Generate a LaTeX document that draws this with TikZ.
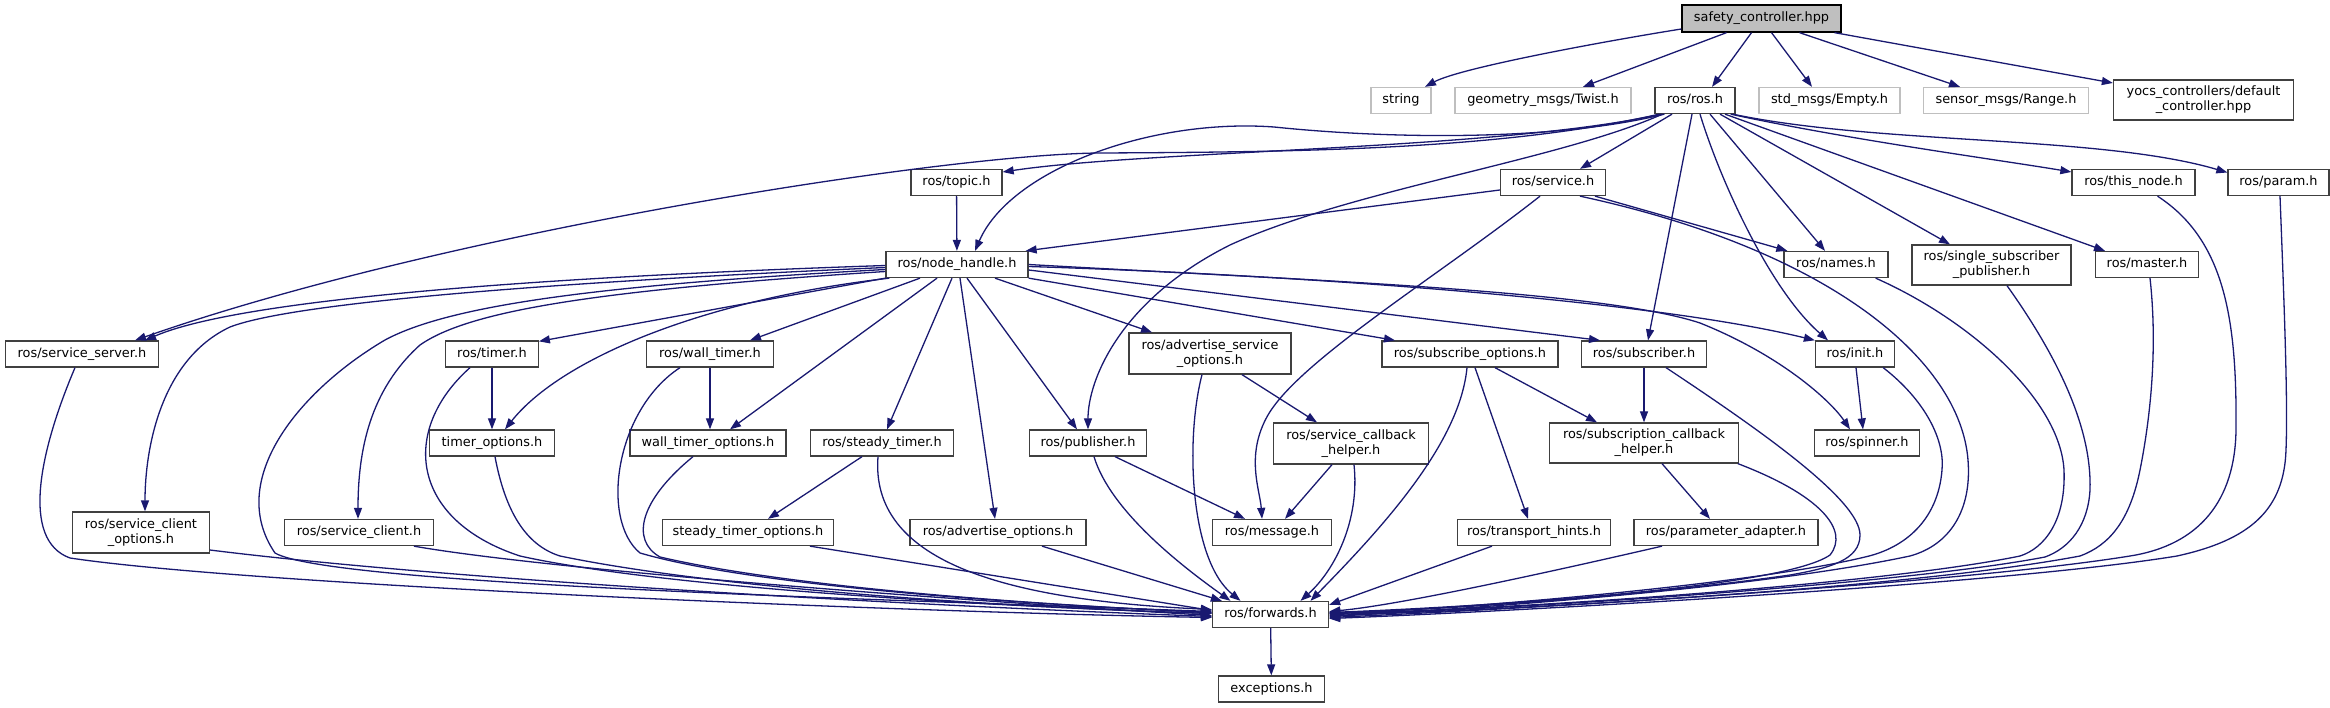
\documentclass[tikz,border=0pt]{standalone}
\usepackage{fontspec}
\setmainfont{DejaVu Sans}
\usetikzlibrary{arrows.meta}
\definecolor{edgec}{HTML}{191970}
\definecolor{bord}{HTML}{404040}
\definecolor{lgrey}{HTML}{BFBFBF}
\newcommand\nodefont{\fontsize{12.9pt}{15pt}\selectfont}
\tikzset{
  box/.style={draw=bord, fill=white, line width=1.3pt, inner sep=0pt, minimum height=26pt, text height=9.8pt, text depth=3pt, font=\nodefont},
  box2/.style={draw=bord, fill=white, line width=1.3pt, inner sep=0pt, minimum height=41pt, align=center, font=\nodefont},
  gbox/.style={box, draw=lgrey},
  rootbox/.style={box, fill=lgrey, draw=black, minimum height=27pt},
  e/.style={draw=edgec, line width=1.3pt, line join=round, -{Triangle[length=11pt,width=8pt]}}
}
\begin{document}
\begin{tikzpicture}[x=1pt,y=-1pt]
\useasboundingbox (0,0) rectangle (2330,708);
% nodes
\node[rootbox, minimum width=159pt] (root) at (1761.5,18.5) {safety\_controller.hpp};
\node[gbox, minimum width=60pt] (string) at (1401,100.5) {string};
\node[gbox, minimum width=176pt] (twist) at (1543,100.5) {geometry\_msgs/Twist.h};
\node[box, minimum width=80pt] (ros) at (1695,100.5) {ros/ros.h};
\node[gbox, minimum width=141pt] (empty) at (1829.5,100.5) {std\_msgs/Empty.h};
\node[gbox, minimum width=165pt] (range) at (2006,100.5) {sensor\_msgs/Range.h};
\node[box2, minimum width=180pt, minimum height=40pt] (yocs) at (2203.5,100) {yocs\_controllers/default\\\_controller.hpp};
\node[box, minimum width=91pt] (topic) at (956.5,182.5) {ros/topic.h};
\node[box, minimum width=105pt] (service) at (1553,182.5) {ros/service.h};
\node[box, minimum width=123pt] (thisnode) at (2133.5,182.5) {ros/this\_node.h};
\node[box, minimum width=101pt] (param) at (2278.5,182.5) {ros/param.h};
\node[box, minimum width=142pt] (nh) at (957,264.5) {ros/node\_handle.h};
\node[box, minimum width=104pt] (names) at (1836,264.5) {ros/names.h};
\node[box2, minimum width=159pt, minimum height=40pt] (ssp) at (1991.5,265) {ros/single\_subscriber\\\_publisher.h};
\node[box, minimum width=103pt] (master) at (2147,264.5) {ros/master.h};
\node[box, minimum width=153pt] (ssrv) at (82,354) {ros/service\_server.h};
\node[box, minimum width=92.5pt] (timer) at (492,354) {ros/timer.h};
\node[box, minimum width=127.5pt] (wtimer) at (710,354) {ros/wall\_timer.h};
\node[box2, minimum width=162pt] (aso) at (1210,353.5) {ros/advertise\_service\\\_options.h};
\node[box, minimum width=176pt] (subopt) at (1470,354) {ros/subscribe\_options.h};
\node[box, minimum width=125.5pt] (subscr) at (1644,354) {ros/subscriber.h};
\node[box, minimum width=79pt] (init) at (1855,354) {ros/init.h};
\node[box, minimum width=125.5pt] (topts) at (492,443) {timer\_options.h};
\node[box, minimum width=156pt] (wtopts) at (708,443) {wall\_timer\_options.h};
\node[box, minimum width=143.5pt] (stimer) at (882,443) {ros/steady\_timer.h};
\node[box, minimum width=117.5pt] (pub) at (1088,443) {ros/publisher.h};
\node[box2, minimum width=155.5pt] (scbh) at (1351,443.5) {ros/service\_callback\\\_helper.h};
\node[box2, minimum width=188.5pt, minimum height=40pt] (subcbh) at (1644,443) {ros/subscription\_callback\\\_helper.h};
\node[box, minimum width=105.5pt] (spinner) at (1867,443) {ros/spinner.h};
\node[box2, minimum width=136.5pt] (scopts) at (141,532.5) {ros/service\_client\\\_options.h};
\node[box, minimum width=148.5pt] (sclient) at (359,532.5) {ros/service\_client.h};
\node[box, minimum width=171.5pt] (stopts) at (748,532.5) {steady\_timer\_options.h};
\node[box, minimum width=176pt] (advopts) at (998,532.5) {ros/advertise\_options.h};
\node[box, minimum width=118.5pt] (message) at (1272,532.5) {ros/message.h};
\node[box, minimum width=153.5pt] (thints) at (1534,532.5) {ros/transport\_hints.h};
\node[box, minimum width=184pt] (padapt) at (1726,532.5) {ros/parameter\_adapter.h};
\node[box, minimum width=116pt] (fwd) at (1270.5,614.5) {ros/forwards.h};
\node[box, minimum width=106pt] (exc) at (1271.5,689) {exceptions.h};
% root edges
\draw[e] ([yshift=-10.5]root.west) .. controls (1600,42) and (1460,68) .. ([xshift=24]string.north);
\draw[e] ([xshift=-35]root.south) -- ([xshift=40]twist.north);
\draw[e] ([xshift=-10]root.south) -- ([xshift=17]ros.north);
\draw[e] ([xshift=10]root.south) -- ([xshift=-17.5]empty.north);
\draw[e] ([xshift=38]root.south) -- ([xshift=-46]range.north);
\draw[e] ([xshift=73]root.south) -- ([yshift=17]yocs.west);
% ros edges
\draw[e] ([xshift=7]ros.south west) .. controls (1500,150) and (1150,150) .. ([yshift=10.5]topic.east);
\draw[e] ([xshift=5]ros.south west) .. controls (1500,150) and (1300,152) .. (1100,153) .. controls (950,154) and (450,230) .. ([xshift=53]ssrv.north);
\draw[e] ([xshift=10]ros.south west) .. controls (1560,140) and (1400,140) .. (1274,127) .. controls (1150,118) and (1010,170) .. ([xshift=18]nh.north);
\draw[e] ([xshift=-23]ros.south) -- ([xshift=27]service.north);
\draw[e] ([xshift=8]ros.south west) .. controls (1560,160) and (1350,190) .. (1230,245) .. controls (1120,300) and (1088,380) .. (pub.north);
\draw[e] ([xshift=-3]ros.south) -- ([xshift=4]subscr.north);
\draw[e] ([xshift=5]ros.south) .. controls (1720,180) and (1770,290) .. ([xshift=-27]init.north);
\draw[e] ([xshift=15]ros.south) -- ([xshift=-11]names.north);
\draw[e] ([xshift=25]ros.south) -- ([xshift=-41.5]ssp.north);
\draw[e] ([xshift=30]ros.south) -- ([xshift=-42]master.north);
\draw[e] ([xshift=-5]ros.south east) .. controls (1850,140) and (2000,160) .. ([yshift=10.5]thisnode.west);
\draw[e] ([xshift=-3]ros.south east) .. controls (1880,145) and (2100,135) .. ([yshift=10]param.west);
% node_handle edges
\draw[e] ([yshift=-1]nh.west) .. controls (600,275) and (250,295) .. ([xshift=63]ssrv.north);
\draw[e] ([yshift=-3]nh.west) .. controls (600,280) and (300,300) .. (230,327) .. controls (160,360) and (145,450) .. ([xshift=4]scopts.north);
\draw[e] ([yshift=-5]nh.west) .. controls (600,285) and (450,305) .. (385,340) .. controls (300,390) and (225,480) .. (275,553) .. controls (330,585) and (900,600) .. ([yshift=3]fwd.west);
\draw[e] ([yshift=-7]nh.west) .. controls (600,290) and (470,310) .. (420,345) .. controls (370,390) and (358,450) .. ([xshift=-1]sclient.north);
\draw[e] (nh.south west) -- ([yshift=-1]timer.north east);
\draw[e] ([xshift=4]nh.south west) .. controls (700,300) and (560,360) .. ([xshift=13]topts.north);
\draw[e] ([xshift=-37]nh.south) -- ([xshift=40]wtimer.north);
\draw[e] ([xshift=-20]nh.south) -- ([xshift=22]wtopts.north);
\draw[e] ([xshift=-5]nh.south) -- ([xshift=5]stimer.north);
\draw[e] ([xshift=3]nh.south) -- ([xshift=-3]advopts.north);
\draw[e] ([xshift=10]nh.south) -- ([xshift=-11]pub.north);
\draw[e] ([xshift=38]nh.south) -- ([xshift=-58]aso.north);
\draw[e] (nh.south east) -- ([xshift=-75]subopt.north);
\draw[e] ([yshift=-5.5]nh.east) -- ([xshift=-44]subscr.north);
\draw[e] ([yshift=-2]nh.east) .. controls (1300,275) and (1650,300) .. (init.north west);
\draw[e] (nh.east) .. controls (1300,280) and (1600,290) .. (1700,323) .. controls (1780,355) and (1830,400) .. ([xshift=-17]spinner.north);
% second level
\draw[e] (topic) -- (nh);
\draw[e] ([yshift=-7.5]service.west) -- ([xshift=-3]nh.north east);
\draw[e] ([xshift=42]service.south) -- ([xshift=4]names.north west);
\draw[e] ([xshift=-13]service.south) .. controls (1440,275) and (1300,360) .. (1268,415) .. controls (1245,455) and (1260,490) .. ([xshift=-10]message.north);
\draw[e] ([xshift=27]service.south) .. controls (1830,250) and (1960,360) .. (1968,460) .. controls (1972,510) and (1950,545) .. (1910,556) .. controls (1750,590) and (1450,610) .. ([yshift=-2]fwd.east);
\draw[e] ([xshift=24]thisnode.south) .. controls (2225,240) and (2237,320) .. (2236,430) .. controls (2235,500) and (2200,545) .. (2130,556) .. controls (1950,585) and (1500,610) .. ([yshift=-3]fwd.east);
\draw[e] ([xshift=1.5]param.south) .. controls (2284,300) and (2288,400) .. (2286,450) .. controls (2284,510) and (2250,540) .. (2177,556) .. controls (2000,585) and (1500,612) .. ([yshift=-4]fwd.east);
\draw[e] ([xshift=3]master.south) .. controls (2158,350) and (2150,420) .. (2140,470) .. controls (2130,520) and (2110,545) .. (2080,556) .. controls (1900,590) and (1500,610) .. ([yshift=-1]fwd.east);
\draw[e] ([xshift=15.5]ssp.south) .. controls (2060,360) and (2092,430) .. (2090,490) .. controls (2088,525) and (2070,548) .. (2045,557) .. controls (1900,585) and (1500,610) .. (fwd.east);
\draw[e] ([xshift=-13]names.south east) .. controls (1970,320) and (2060,400) .. (2064,470) .. controls (2066,520) and (2045,548) .. (2020,556) .. controls (1880,585) and (1500,610) .. ([yshift=1]fwd.east);
\draw[e] ([xshift=-12]init.south east) .. controls (1925,400) and (1945,440) .. (1942,470) .. controls (1938,520) and (1905,548) .. (1865,557) .. controls (1750,585) and (1450,610) .. ([yshift=1]fwd.east);
\draw[e] ([xshift=22]subscr.south) .. controls (1760,430) and (1860,500) .. (1860,535) .. controls (1860,560) and (1830,568) .. (1790,575) .. controls (1650,595) and (1450,610) .. ([yshift=2]fwd.east);
\draw[e] ([xshift=-1]subcbh.south east) .. controls (1820,495) and (1850,530) .. (1830,555) .. controls (1780,590) and (1450,608) .. ([yshift=2]fwd.east);
\draw[e] ([xshift=-64]padapt.south) .. controls (1550,572) and (1400,605) .. ([yshift=3]fwd.east);
\draw[e] ([xshift=-42]thints.south) -- ([yshift=-4]fwd.north east);
\draw[e] ([xshift=-3]subopt.south) .. controls (1460,440) and (1390,520) .. ([xshift=40]fwd.north);
\draw[e] ([xshift=5]subopt.south) -- ([xshift=-6]thints.north);
\draw[e] ([xshift=25]subopt.south) -- ([xshift=-47]subcbh.north);
\draw[e] (subscr.south) -- (subcbh.north);
\draw[e] ([xshift=18]subcbh.south) -- ([xshift=-16]padapt.north);
\draw[e] ([xshift=1]init.south) -- ([xshift=-4]spinner.north);
\draw[e] ([xshift=32]aso.south) -- ([xshift=-34]scbh.north);
\draw[e] ([xshift=-8]aso.south) .. controls (1185,440) and (1190,560) .. ([xshift=-30]fwd.north);
\draw[e] ([xshift=-19]scbh.south) -- ([xshift=13]message.north);
\draw[e] ([xshift=3]scbh.south) .. controls (1360,520) and (1335,570) .. ([xshift=30]fwd.north);
\draw[e] ([xshift=27]pub.south) -- ([xshift=-27]message.north);
\draw[e] ([xshift=6]pub.south) .. controls (1110,510) and (1180,565) .. ([xshift=-40]fwd.north);
\draw[e] ([xshift=-20]stimer.south) -- ([xshift=20]stopts.north);
\draw[e] ([xshift=-4]stimer.south) .. controls (870,560) and (1000,600) .. ([yshift=5]fwd.west);
\draw[e] ([xshift=44]advopts.south) -- ([xshift=10]fwd.north west);
\draw[e] ([xshift=62]stopts.south) -- ([yshift=4]fwd.west);
\draw[e] (timer.south) -- (topts.north);
\draw[e] ([xshift=-22]timer.south) .. controls (400,430) and (410,520) .. (520,556) .. controls (650,585) and (950,605) .. ([yshift=1]fwd.west);
\draw[e] ([xshift=3]topts.south) .. controls (505,510) and (525,545) .. (560,556) .. controls (700,585) and (950,605) .. ([yshift=1]fwd.west);
\draw[e] (wtimer.south) -- ([xshift=2]wtopts.north);
\draw[e] ([xshift=-30]wtimer.south) .. controls (615,410) and (600,520) .. (640,553) .. controls (750,585) and (1000,603) .. ([yshift=2]fwd.west);
\draw[e] ([xshift=-15]wtopts.south) .. controls (640,500) and (630,540) .. (660,557) .. controls (780,585) and (1000,603) .. ([yshift=2]fwd.west);
\draw[e] ([xshift=-20]sclient.south east) .. controls (550,570) and (950,600) .. ([yshift=-1]fwd.west);
\draw[e] ([yshift=-17.5]scopts.east) .. controls (450,580) and (900,605) .. ([yshift=-2]fwd.west);
\draw[e] ([xshift=-7]ssrv.south) .. controls (40,450) and (20,540) .. (70,558) .. controls (250,585) and (900,612) .. ([yshift=-3]fwd.west);
\draw[e] (fwd) -- (exc);
\end{tikzpicture}
\end{document}
